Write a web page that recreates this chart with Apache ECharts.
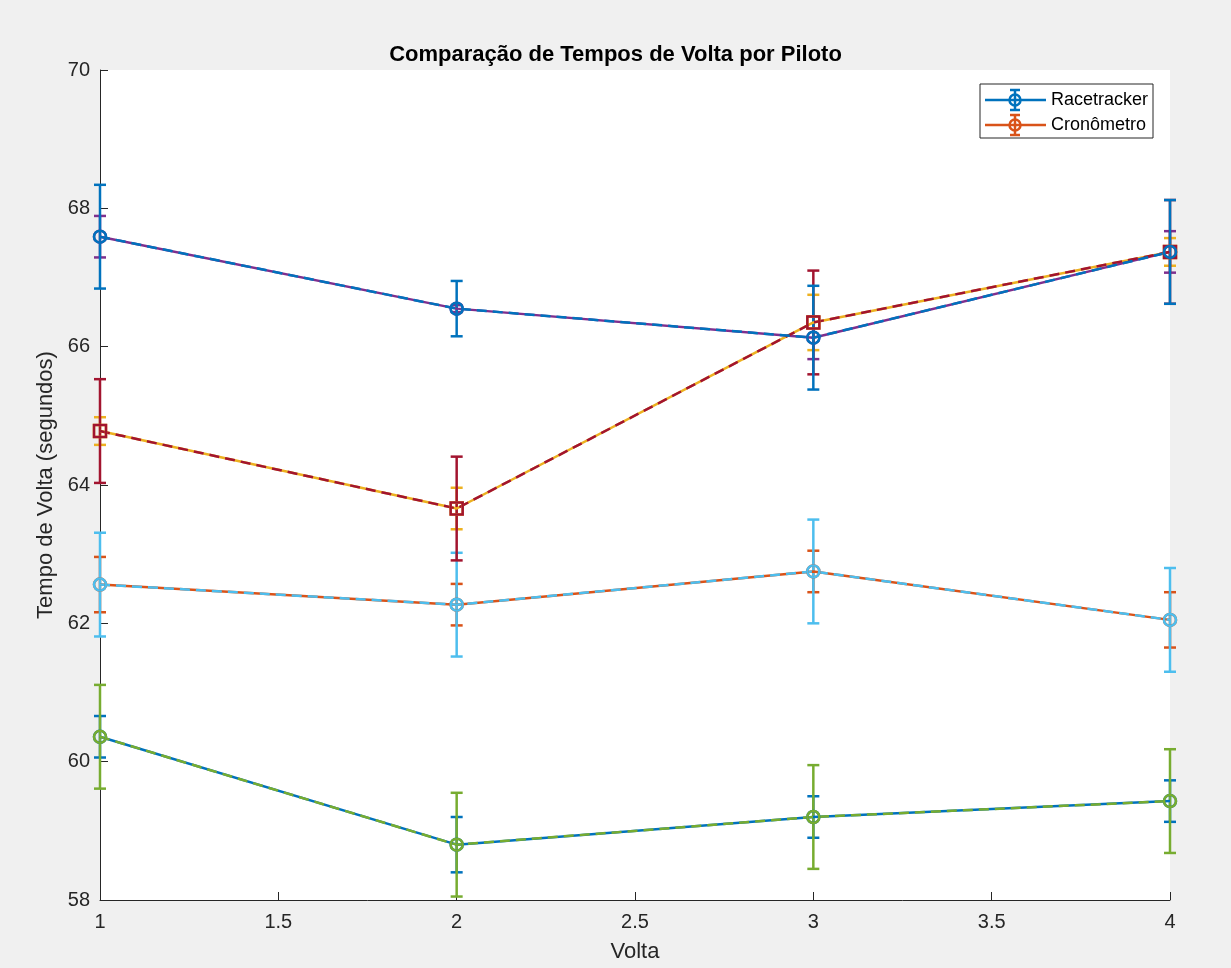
<!DOCTYPE html>
<html>
<head>
<meta charset="utf-8">
<script src="https://cdn.jsdelivr.net/npm/echarts@6/dist/echarts.min.js"></script>
<style>
html,body{margin:0;padding:0;background:#F0F0F0;overflow:hidden;}
#chart{width:1231px;height:968px;}
</style>
</head>
<body>
<div id="chart"></div>
<script>
// ---- data ----
const laps = [1, 2, 3, 4];
const xTickInterval = 0.5;
const yTicks = [58, 60, 62, 64, 66, 68, 70];

// lap times per pilot (seconds)
const pilotA = [67.59, 66.55, 66.13, 67.37];
const pilotB = [64.78, 63.66, 66.35, 67.37];
const pilotC = [62.56, 62.27, 62.75, 62.05];
const pilotD = [60.36, 58.80, 59.20, 59.43];

// small error (solid series, drawn first)
const errSmallA = [0.30, 0.05, 0.31, 0.30];
const errSmallB = [0.20, 0.30, 0.40, 0.20];
const errSmallC = [0.40, 0.30, 0.30, 0.40];
const errSmallD = [0.30, 0.40, 0.30, 0.30];

// large error (dashed series, drawn on top)
const errBigA = [0.75, 0.40, 0.75, 0.75];
const errBigB = [0.75, 0.75, 0.75, 0.75];
const errBigC = [0.75, 0.75, 0.75, 0.75];
const errBigD = [0.75, 0.75, 0.75, 0.75];

const legendNames = ['Racetracker', 'Cronômetro'];

// ---- styles ----
const C = {
  blue: '#0072BD', orange: '#D95319', yellow: '#EDB120', purple: '#7E2F8E',
  green: '#77AC30', lblue: '#4DBEEE', dred: '#A2142F'
};
const axisColor = '#262626';
const FONT = '"Liberation Sans", Arial, Helvetica, sans-serif';

const seriesDefs = [
  // solid small-error series (plotted first)
  {vals: pilotD, err: errSmallD, color: C.blue,   dashed: false, symbol: 'circle'},
  {vals: pilotC, err: errSmallC, color: C.orange, dashed: false, symbol: 'circle'},
  {vals: pilotB, err: errSmallB, color: C.yellow, dashed: false, symbol: 'rect'},
  {vals: pilotA, err: errSmallA, color: C.purple, dashed: false, symbol: 'circle'},
  // dashed large-error series
  {vals: pilotD, err: errBigD, color: C.green, dashed: true, symbol: 'circle'},
  {vals: pilotC, err: errBigC, color: C.lblue, dashed: true, symbol: 'circle'},
  {vals: pilotB, err: errBigB, color: C.dred,  dashed: true, symbol: 'rect'},
  {vals: pilotA, err: errBigA, color: C.blue,  dashed: true, symbol: 'circle'}
];

const LW = 2.5;
const CAP = 6;
const DASH = [10, 6];

const series = [];
seriesDefs.forEach(function (d, i) {
  const errData = laps.map(function (x, k) { return [x, d.vals[k], d.err[k]]; });
  series.push({
    type: 'custom',
    z: 2,
    silent: true,
    data: errData,
    encode: {x: 0, y: 1},
    renderItem: function (params, api) {
      const x = api.value(0), y = api.value(1), e = api.value(2);
      const top = api.coord([x, y + e]);
      const bot = api.coord([x, y - e]);
      const st = {stroke: d.color, lineWidth: LW, fill: null};
      return {
        type: 'group',
        children: [
          {type: 'line', shape: {x1: top[0], y1: top[1], x2: bot[0], y2: bot[1]}, style: st},
          {type: 'line', shape: {x1: top[0] - CAP, y1: top[1], x2: top[0] + CAP, y2: top[1]}, style: st},
          {type: 'line', shape: {x1: bot[0] - CAP, y1: bot[1], x2: bot[0] + CAP, y2: bot[1]}, style: st}
        ]
      };
    }
  });
  series.push({
    type: 'line',
    z: 2,
    silent: true,
    animation: false,
    data: laps.map(function (x, k) { return [x, d.vals[k]]; }),
    symbol: d.symbol,
    symbolSize: 12,
    showAllSymbol: true,
    lineStyle: {color: d.color, width: LW, type: d.dashed ? DASH : 'solid'},
    itemStyle: {color: 'rgba(0,0,0,0)', borderColor: d.color, borderWidth: LW}
  });
});

// ---- legend (graphic) ----
function legendRow(y, color, label) {
  return [
    {type: 'line', shape: {x1: 985, y1: y, x2: 1046, y2: y}, style: {stroke: color, lineWidth: LW}},
    {type: 'line', shape: {x1: 1015, y1: y - 10, x2: 1015, y2: y + 10}, style: {stroke: color, lineWidth: LW}},
    {type: 'line', shape: {x1: 1010, y1: y - 10, x2: 1020, y2: y - 10}, style: {stroke: color, lineWidth: LW}},
    {type: 'line', shape: {x1: 1010, y1: y + 10, x2: 1020, y2: y + 10}, style: {stroke: color, lineWidth: LW}},
    {type: 'circle', shape: {cx: 1015, cy: y, r: 5.5}, style: {stroke: color, lineWidth: LW, fill: null}},
    {type: 'text', x: 1051, y: y, style: {text: label, font: '18px ' + FONT, fill: '#000', verticalAlign: 'middle', textAlign: 'left'}}
  ];
}

const chart = echarts.init(document.getElementById('chart'), null, {renderer: 'canvas'});
chart.setOption({
  animation: false,
  backgroundColor: '#F0F0F0',
  title: {
    text: 'Comparação de Tempos de Volta por Piloto',
    left: 'center',
    top: 39,
    textStyle: {fontFamily: FONT, fontSize: 22, fontWeight: 'bold', color: '#000'}
  },
  grid: {left: 100, top: 70, width: 1070, height: 841, show: true, backgroundColor: '#fff', borderWidth: 0},
  xAxis: {
    type: 'value',
    min: laps[0], max: laps[laps.length - 1], interval: xTickInterval,
    name: 'Volta', nameLocation: 'middle', nameGap: 41,
    nameTextStyle: {fontFamily: FONT, fontSize: 22, color: axisColor},
    axisLine: {show: true, lineStyle: {color: axisColor, width: 1}},
    axisTick: {show: true, inside: true, length: 8, lineStyle: {color: axisColor}},
    axisLabel: {fontFamily: FONT, fontSize: 20, color: axisColor, margin: 12},
    splitLine: {show: false}
  },
  yAxis: {
    type: 'value',
    min: yTicks[0], max: yTicks[yTicks.length - 1], interval: yTicks[1] - yTicks[0],
    name: 'Tempo de Volta (segundos)', nameLocation: 'middle', nameGap: 30,
    nameTextStyle: {fontFamily: FONT, fontSize: 22, color: axisColor},
    axisLine: {show: true, lineStyle: {color: axisColor, width: 1}},
    axisTick: {show: true, inside: true, length: 8, lineStyle: {color: axisColor}},
    axisLabel: {fontFamily: FONT, fontSize: 20, color: axisColor, margin: 10},
    splitLine: {show: false}
  },
  series: series,
  graphic: [
    {
      type: 'group', z: 100,
      children: [
        {type: 'rect', shape: {x: 980, y: 84, width: 173, height: 54}, style: {fill: '#fff', stroke: '#262626', lineWidth: 1}}
      ].concat(legendRow(100, C.blue, legendNames[0]), legendRow(125, C.orange, legendNames[1]))
    }
  ]
});
</script>
</body>
</html>
